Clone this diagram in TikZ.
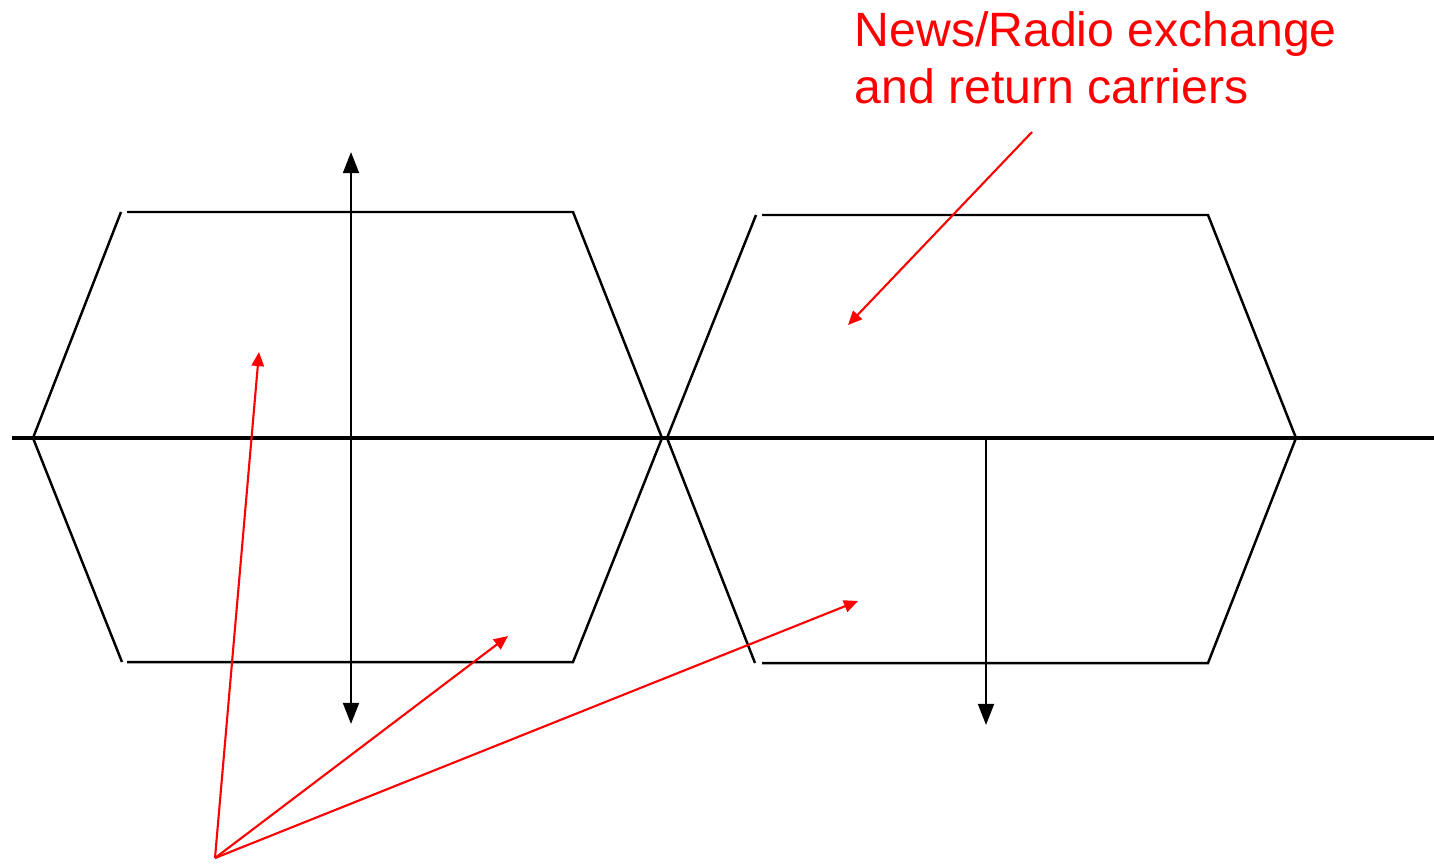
\documentclass[tikz,border=0pt]{standalone}
\usepackage{fontspec}
\setmainfont{Liberation Sans}
\usetikzlibrary{arrows.meta}

\begin{document}
\begin{tikzpicture}[x=0.01cm, y=-0.01cm, >={Triangle[length=6pt, width=4.5pt]}]
  \useasboundingbox (0,0) rectangle (1434,863);
  \tikzset{
    band/.style={black, line width=0.7pt},
    pointer/.style={red, line width=0.6pt, -{Triangle[length=4pt, width=3.5pt]}}
  }

  % left carrier
  \coordinate (LTl) at (127,212);
  \coordinate (LTs) at (121,212);
  \coordinate (LTr) at (573,212);
  \coordinate (LBl) at (127,662);
  \coordinate (LBs) at (122,662);
  \coordinate (LBr) at (573,662);
  \coordinate (LL) at (33,438);
  \coordinate (LR) at (662,438);

  % right carrier
  \coordinate (RTl) at (762,215);
  \coordinate (RTs) at (756,215);
  \coordinate (RTr) at (1208,215);
  \coordinate (RBl) at (762,663);
  \coordinate (RBs) at (755,663);
  \coordinate (RBr) at (1208,663);
  \coordinate (RL) at (667,438);
  \coordinate (RR) at (1296,438);

  \draw[band] (LTl) -- (LTr) -- (LR) -- (LBr) -- (LBl);
  \draw[band] (LTs) -- (LL) -- (LBs);
  \draw[band] (RTl) -- (RTr) -- (RR) -- (RBr) -- (RBl);
  \draw[band] (RTs) -- (RL) -- (RBs);

  % frequency axis
  \coordinate (A0) at (12,438);
  \coordinate (A1) at (1434,438);
  \draw[line width=1pt] (A0) -- (A1);

  % polarisation arrows
  \coordinate (P1) at (351,152);
  \coordinate (P2) at (351,724);
  \draw[band, <->] (P1) -- (P2);
  \coordinate (Q1) at (986,438);
  \coordinate (Q2) at (986,725);
  \draw[band, ->] (Q1) -- (Q2);

  % labels
  \node[red, anchor=north west, inner sep=0pt, align=left,
        font=\fontsize{13.7pt}{16.2pt}\selectfont] (news) at (854,11)
    {News/Radio exchange\\and return carriers};
  \coordinate (N0) at (1032,132);
  \coordinate (N1) at (848,325);
  \draw[pointer] (N0) -- (N1);

  \coordinate (S) at (215,858);
  \coordinate (S1) at (259,352);
  \coordinate (S2) at (508,636);
  \coordinate (S3) at (858,601);
  \draw[pointer] (S) -- (S1);
  \draw[pointer] (S) -- (S2);
  \draw[pointer] (S) -- (S3);
\end{tikzpicture}
\end{document}
